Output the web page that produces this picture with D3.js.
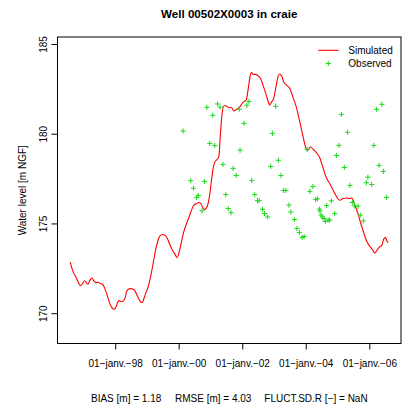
<!DOCTYPE html>
<html>
<head>
<meta charset="utf-8">
<script src="https://cdn.jsdelivr.net/npm/d3@7"></script>
<style>
  html, body { margin: 0; padding: 0; background: #fff; }
  svg { display: block; font-family: "Liberation Sans", Arial, Helvetica, sans-serif; }
</style>
</head>
<body>
<svg id="chart" width="414" height="412"></svg>
<script>
// ---- Data (decimal years, water level m NGF) ----
const titleText = "Well 00502X0003 in craie";
const yLabel = "Water level [m NGF]";
const seriesNames = ["Simulated", "Observed"];
const statsTexts = ["BIAS [m] = 1.18", "RMSE [m] = 4.03", "FLUCT.SD.R [\u2212] = NaN"];

const simTime = [
  1996.585,1996.679,1996.764,1996.836,1996.912,1996.975,1997.038,1997.101,1997.142,1997.204,
  1997.267,1997.330,1997.393,1997.465,1997.528,1997.604,1997.676,1997.748,1997.833,1997.906,
  1997.969,1998.022,1998.075,1998.126,1998.189,1998.252,1998.314,1998.358,1998.409,1998.484,
  1998.566,1998.629,1998.692,1998.755,1998.818,1998.862,1998.903,1998.965,1999.038,1999.113,
  1999.195,1999.270,1999.343,1999.406,1999.491,1999.572,1999.635,1999.720,1999.805,1999.887,
  1999.950,2000.003,2000.035,2000.088,2000.160,2000.245,2000.327,2000.403,2000.475,2000.560,
  2000.632,2000.695,2000.748,2000.811,2000.874,2000.937,2000.987,2001.031,2001.082,2001.135,
  2001.189,2001.261,2001.314,2001.365,2001.428,2001.503,2001.585,2001.670,2001.733,2001.796,
  2001.868,2001.943,2002.006,2002.079,2002.132,2002.182,2002.236,2002.289,2002.340,2002.425,
  2002.497,2002.572,2002.654,2002.739,2002.802,2002.865,2002.928,2002.991,2003.053,2003.126,
  2003.179,2003.242,2003.305,2003.390,2003.494,2003.597,2003.704,2003.808,2003.912,2004.019,
  2004.069,2004.145,2004.226,2004.333,2004.437,2004.541,2004.648,2004.752,2004.836,2004.909,
  2005.003,2005.082,2005.170,2005.277,2005.381,2005.453,2005.506,2005.569,2005.642,2005.717,
  2005.799,2005.884,2005.956,2006.031,2006.113,2006.167,2006.239,2006.324,2006.396,2006.459,
  2006.513,2006.553,2006.597
];
const simLevel = [
  172.85,172.29,172.01,171.74,171.53,171.65,171.81,171.68,171.61,171.83,
  171.96,171.79,171.70,171.72,171.66,171.61,171.37,170.99,170.53,170.28,
  170.21,170.34,170.59,170.70,170.64,170.68,170.87,171.18,171.33,171.37,
  171.33,171.23,170.99,170.77,170.60,170.60,170.81,171.12,171.46,172.01,
  172.76,173.50,174.02,174.29,174.38,174.34,174.19,173.84,173.50,173.28,
  173.10,173.34,173.54,173.97,174.53,174.99,175.36,175.74,176.02,176.11,
  176.17,176.11,175.92,175.78,175.87,176.20,176.76,177.41,178.06,178.43,
  178.53,178.71,180.02,181.13,181.56,181.54,181.45,181.45,181.26,181.32,
  181.41,181.54,181.72,181.82,181.91,182.43,183.09,183.42,183.31,183.31,
  183.23,183.09,182.71,182.25,181.88,181.60,181.78,181.97,182.53,183.18,
  183.33,183.21,182.90,182.71,182.53,182.04,181.48,180.70,179.87,179.14,
  179.08,179.27,179.14,178.95,178.67,178.11,177.55,177.23,176.95,176.69,
  176.39,176.29,176.39,176.42,176.39,176.42,176.20,175.92,175.55,175.08,
  174.62,174.16,173.88,173.69,173.50,173.35,173.50,173.69,173.78,174.16,
  174.21,174.02,173.93
];

const obsTime = [
  2000.138,2000.381,2000.465,2000.616,2000.563,2000.736,2000.811,2000.887,2000.978,2001.072,
  2001.135,2001.223,2001.302,2001.393,2001.481,2001.560,2001.645,2001.711,2001.811,2001.906,
  2001.931,2002.057,2002.148,2002.211,2002.299,2002.393,2002.481,2002.531,2002.638,2002.701,
  2002.802,2002.896,2002.950,2003.053,2003.138,2003.220,2003.305,2003.377,2003.472,2003.531,
  2003.645,2003.723,2003.799,2003.887,2003.950,2004.044,2004.132,2004.226,2004.311,2004.368,
  2004.428,2004.447,2004.478,2004.522,2004.572,2004.616,2004.657,2004.704,2004.752,2004.805,
  2004.909,2004.962,2005.044,2005.119,2005.214,2005.311,2005.390,2005.465,2005.528,2005.648,
  2005.717,2005.811,2005.906,2005.956,2006.075,2006.142,2006.230,2006.308,2006.396,2006.443,
  2006.544
];
const obsLevel = [
  180.15,177.38,176.96,176.56,176.45,175.71,177.34,181.47,179.46,181.03,
  179.34,181.66,181.48,178.29,176.61,175.83,175.60,178.07,177.67,181.37,
  179.08,180.58,181.59,181.80,177.39,176.61,176.27,176.27,175.79,175.55,
  175.36,178.18,180.02,181.53,178.52,177.67,176.84,176.84,176.02,175.64,
  175.22,174.72,174.49,174.21,174.27,179.12,176.79,177.06,176.33,176.37,
  175.80,175.70,175.47,175.36,175.28,175.11,176.00,175.20,175.18,176.26,
  175.55,178.79,179.35,181.08,178.12,180.08,177.12,176.17,175.98,175.96,
  175.46,175.14,177.27,177.58,177.17,179.35,181.36,178.23,181.64,177.90,
  176.45
];

const yTicks = [170, 175, 180, 185];
const xTickYears = [1998, 2000, 2002, 2004, 2006];
const monthAbbr = ["janv.","févr.","mars","avr.","mai","juin","juil.","août","sept.","oct.","nov.","déc."];

// ---- Helpers ----
function decToDate(t) {
  const y = Math.floor(t);
  const start = Date.UTC(y, 0, 1), end = Date.UTC(y + 1, 0, 1);
  return new Date(start + (t - y) * (end - start));
}
function fmtDate(d) {
  const dd = String(d.getUTCDate()).padStart(2, "0");
  const yy = String(d.getUTCFullYear() % 100).padStart(2, "0");
  return dd + "\u2212" + monthAbbr[d.getUTCMonth()] + "\u2212" + yy;
}

const sim = simTime.map((t, i) => ({ date: decToDate(t), v: simLevel[i] }));
const obs = obsTime.map((t, i) => ({ date: decToDate(t), v: obsLevel[i] }));

// ---- Layout ----
const plot = { left: 57.5, right: 401, top: 37, bottom: 343.5 };
const svg = d3.select("#chart");

// x domain: data range extended 4% each side (R style)
const allDates = sim.map(d => d.date).concat(obs.map(d => d.date));
const [dMin, dMax] = d3.extent(allDates);
const pad = (dMax - dMin) * 0.04;
const x = d3.scaleUtc()
  .domain([new Date(+dMin - pad), new Date(+dMax + pad)])
  .range([plot.left, plot.right]);
const y = d3.scaleLinear()
  .domain([168.31, 185.39])
  .range([plot.bottom, plot.top]);

const fontSize = 10;

// Title
svg.append("text")
  .attr("x", (plot.left + plot.right) / 2)
  .attr("y", 17.5)
  .attr("text-anchor", "middle")
  .attr("font-weight", "bold")
  .attr("font-size", 11.6)
  .attr("fill", "#000")
  .text(titleText);

// Box
svg.append("rect")
  .attr("x", plot.left).attr("y", plot.top)
  .attr("width", plot.right - plot.left)
  .attr("height", plot.bottom - plot.top)
  .attr("fill", "none").attr("stroke", "#000").attr("stroke-width", 1);

// Y axis
const yAxis = d3.axisLeft(y).tickValues(yTicks).tickSize(6).tickPadding(0).tickFormat(d3.format("d"));
const gy = svg.append("g").attr("transform", `translate(${plot.left},0)`).call(yAxis);
gy.select(".domain").remove();
gy.selectAll(".tick line").attr("stroke", "#000");
gy.selectAll(".tick text")
  .attr("x", null).attr("dy", null)
  .attr("font-size", fontSize).attr("font-family", "Liberation Sans, Arial, sans-serif")
  .attr("fill", "#000")
  .attr("text-anchor", "middle")
  .attr("transform", "translate(-14,0) rotate(-90)")
  .attr("dy", "0.35em");

// X axis
const xTickDates = xTickYears.map(yr => new Date(Date.UTC(yr, 0, 1)));
const xAxis = d3.axisBottom(x).tickValues(xTickDates).tickSize(6).tickPadding(10).tickFormat(fmtDate);
const gx = svg.append("g").attr("transform", `translate(0,${plot.bottom})`).call(xAxis);
gx.select(".domain").remove();
gx.selectAll(".tick line").attr("stroke", "#000");
gx.selectAll(".tick text")
  .attr("font-size", fontSize).attr("font-family", "Liberation Sans, Arial, sans-serif")
  .attr("fill", "#000");

// Y label
svg.append("text")
  .attr("transform", `translate(25.5,${(plot.top + plot.bottom) / 2}) rotate(-90)`)
  .attr("text-anchor", "middle")
  .attr("font-size", fontSize)
  .attr("fill", "#000")
  .text(yLabel);

// Stats line
const statsX = [91, 175, 264.3];
statsTexts.forEach((s, i) => {
  svg.append("text")
    .attr("x", statsX[i]).attr("y", 402)
    .attr("font-size", fontSize)
    .attr("fill", "#000")
    .text(s);
});

// Clip
svg.append("clipPath").attr("id", "clip")
  .append("rect").attr("x", plot.left).attr("y", plot.top)
  .attr("width", plot.right - plot.left).attr("height", plot.bottom - plot.top);

const green = "#1ed81e";
const red = "#ff0000";

// Simulated line
const line = d3.line().x(d => x(d.date)).y(d => y(d.v)).curve(d3.curveMonotoneX);
svg.append("path")
  .datum(sim)
  .attr("clip-path", "url(#clip)")
  .attr("d", line)
  .attr("fill", "none")
  .attr("stroke", red)
  .attr("stroke-width", 1.1);

// Observed plus markers
const arm = 2.6;
const plus = (cx, cy) => `M${cx - arm},${cy}H${cx + arm}M${cx},${cy - arm}V${cy + arm}`;
svg.append("g").selectAll("path")
  .data(obs).join("path")
  .attr("d", d => plus(x(d.date), y(d.v)))
  .attr("stroke", green)
  .attr("stroke-width", 1)
  .attr("fill", "none");

// Legend
const leg = svg.append("g");
leg.append("line")
  .attr("x1", 318.3).attr("x2", 338.5).attr("y1", 50.3).attr("y2", 50.3)
  .attr("stroke", red).attr("stroke-width", 1.1);
leg.append("path").attr("d", plus(328.3, 63.5)).attr("stroke", green).attr("stroke-width", 1);
leg.append("text").attr("x", 348.3).attr("y", 54).attr("font-size", fontSize).attr("fill", "#000").text(seriesNames[0]);
leg.append("text").attr("x", 348.3).attr("y", 67.3).attr("font-size", fontSize).attr("fill", "#000").text(seriesNames[1]);
</script>
</body>
</html>
